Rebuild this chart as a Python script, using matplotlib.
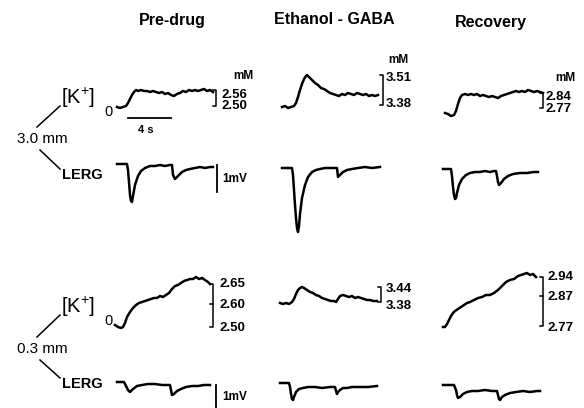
import numpy as np
import matplotlib
matplotlib.use("Agg")
import matplotlib.pyplot as plt

plt.rcParams['font.family'] = ['Liberation Sans', 'DejaVu Sans']
plt.rcParams['mathtext.fontset'] = 'custom'
plt.rcParams['mathtext.rm'] = 'Liberation Sans'

# traces (x = time position, y = level, screen units)
# --- 3.0 mm ---
k30_pre_x = [117,120,123,126,128,130,132,134,136,138,141,144,147,150,153,156,159,162,165,168,171,174,177,180,183,186,189,192,195,198,201,204,207,210,213]
k30_pre_y = [107,108,107,106,103,99,95,92,90,91,90,91,91,92,91,92,93,92,94,93,95,96,94,93,91,92,90,91,90,91,90,89,91,90,92]
e30_pre_x = [117,127,128,129,130,131,132,133,135,138,141,145,150,155,160,165,170,172,173,175,178,182,186,190,195,200,205,210,213]
e30_pre_y = [164,164,170,182,195,201,202,196,185,176,171,168,166,166,165,166,165,165,175,179,176,172,170,169,168,167,168,167,167]

k30_eth_x = [282,285,288,291,294,296,298,300,302,304,306,307,309,312,315,318,321,324,327,330,333,336,339,342,345,348,351,354,357,360,363,366,369,372,375,378]
k30_eth_y = [107,106,108,107,106,103,97,90,84,79,76,75,77,80,83,85,88,89,91,93,94,95,96,94,95,93,94,95,93,94,95,94,96,95,96,95]
e30_eth_x = [282,292,293,294,295,296,297,298,299,300,302,305,308,312,316,320,325,330,335,337,338,340,343,347,352,358,365,372,380]
e30_eth_y = [168,168,175,190,205,218,228,232,226,214,198,185,177,172,170,169,168,168,168,168,177,175,172,170,169,168,167,168,167]

k30_rec_x = [445,448,451,454,456,458,460,462,465,468,471,474,477,480,483,486,489,492,495,498,501,504,507,510,513,516,519,522,525,528,531,534,537,540,543]
k30_rec_y = [113,114,116,115,111,104,98,95,94,95,94,95,94,96,95,96,97,96,97,98,96,95,94,93,92,91,92,91,92,90,91,92,91,92,93]
e30_rec_x = [443,451,452,453,454,455,456,457,459,462,466,470,475,480,485,490,494,496,497,498,499,501,504,508,513,520,527,534,538]
e30_rec_y = [169,169,176,187,195,199,198,193,185,179,175,173,172,172,171,172,171,171,176,182,185,183,179,176,174,173,173,172,172]

# --- 0.3 mm ---
k03_pre_x = [115,118,121,123,125,127,130,133,136,139,142,145,148,151,154,157,160,163,166,169,172,175,178,181,184,187,190,193,196,199,202,205,208,210]
k03_pre_y = [325,327,328,327,323,317,312,308,305,303,302,301,300,299,298,298,296,297,295,293,289,286,285,283,281,280,279,279,277,279,278,280,282,284]
e03_pre_x = [117,124,126,128,130,133,137,142,148,155,162,168,170,171,172,174,177,181,186,192,198,204,210]
e03_pre_y = [382,382,386,390,392,389,386,385,384,384,385,385,385,390,395,394,391,389,387,386,386,385,385]

k03_eth_x = [280,283,286,289,292,294,296,298,300,302,304,307,310,313,316,319,322,325,328,331,334,336,338,340,343,346,349,352,355,358,361,364,367,370,373,377]
k03_eth_y = [303,304,303,304,302,299,294,290,288,287,288,290,292,293,295,296,298,299,300,301,301,302,299,296,295,296,297,296,298,297,298,299,300,300,301,301]
e03_eth_x = [280,289,290,291,292,293,294,296,299,303,308,315,322,330,335,336,337,338,340,343,347,352,360,368,377]
e03_eth_y = [383,383,387,394,399,400,397,392,389,388,387,387,388,387,387,391,394,392,390,388,388,387,387,387,386]

k03_rec_x = [443,445,447,449,451,453,455,458,461,464,467,470,474,478,482,486,490,494,498,502,506,510,514,518,521,524,527,530,533,536]
k03_rec_y = [327,327,324,320,316,313,311,309,307,305,303,302,300,298,297,295,295,293,290,286,282,280,279,276,275,274,273,275,274,277]
e03_rec_x = [443,454,456,457,458,460,463,467,472,478,485,492,497,498,499,500,502,505,510,516,523,530,537,540]
e03_rec_y = [385,385,390,395,398,397,394,392,391,391,390,391,391,395,399,400,397,395,393,392,391,392,391,391]

titles = ["Pre-drug", "Ethanol - GABA", "Recovery"]
k30_labels = [["2.56", "2.50"], ["3.51", "3.38"], ["2.84", "2.77"]]
k03_labels = [["2.65", "2.60", "2.50"], ["3.44", "3.38"], ["2.94", "2.87", "2.77"]]

fig = plt.figure(figsize=(5.84, 4.08), dpi=100)
ax = fig.add_axes([0, 0, 1, 1])
ax.set_xlim(0, 584)
ax.set_ylim(408, 0)
ax.axis('off')

lw = 1.8
for xs, ys in [(k30_pre_x, k30_pre_y), (e30_pre_x, e30_pre_y),
               (k30_eth_x, k30_eth_y), (e30_eth_x, e30_eth_y),
               (k30_rec_x, k30_rec_y), (e30_rec_x, e30_rec_y),
               (k03_pre_x, k03_pre_y), (e03_pre_x, e03_pre_y),
               (k03_eth_x, k03_eth_y), (e03_eth_x, e03_eth_y),
               (k03_rec_x, k03_rec_y), (e03_rec_x, e03_rec_y)]:
    ax.plot(xs, ys, color='black', lw=lw, solid_joinstyle='round')


def bracket(x, y0, y1, mids=()):
    ax.plot([x - 3, x, x, x - 3], [y0, y0, y1, y1], color='black', lw=1.1)
    for m in mids:
        ax.plot([x - 3, x], [m, m], color='black', lw=1.1)


def stack(x, ys, labels, size=9.5):
    for y, s in zip(ys, labels):
        ax.text(x, y, s, fontsize=size, fontweight='bold', va='center', ha='left')


# column titles
for cx, cy, t in zip([172, 334, 491], [20, 20, 23], titles):
    ax.text(cx, cy, t, fontsize=11.5, fontweight='bold', ha='center', va='center')

# mM labels
for cx, cy in [(243, 76), (398, 60), (565, 78)]:
    ax.text(cx, cy, "mM", fontsize=8.5, fontweight='bold', ha='center', va='center')

# 3.0 mm row scales
bracket(216, 90, 106)
stack(222, [95, 106], k30_labels[0])
bracket(383, 75, 105)
stack(386, [78, 104], k30_labels[1])
bracket(543, 93, 108)
stack(546, [97, 109], k30_labels[2])

# 0.3 mm row scales
bracket(213, 284, 327, mids=[304])
stack(220, [284, 305, 328], k03_labels[0])
bracket(381, 287, 302)
stack(386, [289, 306], k03_labels[1])
bracket(543, 277, 326, mids=[296])
stack(547, [277, 297, 328], k03_labels[2])

# time bar
ax.plot([128, 171], [118, 118], color='black', lw=1.3)
ax.text(146, 130, "4 s", fontsize=8, fontweight='bold', ha='center', va='center')

# 1 mV bars
ax.plot([217, 217], [165, 192], color='black', lw=1.3)
ax.text(222, 179, "1mV", fontsize=8.5, fontweight='bold', ha='left', va='center')
ax.plot([216, 216], [385, 408], color='black', lw=1.3)
ax.text(222, 397, "1mV", fontsize=8.5, fontweight='bold', ha='left', va='center')

# left labels
for ky, dy, ly, dist in [(98, 139, 175, "3.0 mm"), (307, 349, 384, "0.3 mm")]:
    ax.text(61, ky, r"$[\mathrm{K}^{+}]$", fontsize=14.5, ha='left', va='center')
    ax.text(104, ky + 14, "0", fontsize=10.5, ha='left', va='center')
    ax.text(42, dy, dist, fontsize=11, ha='center', va='center')
    ax.text(62, ly, "LERG", fontsize=10.5, fontweight='bold', ha='left', va='center')
    ax.plot([37, 60], [dy - 12, ky + 8], color='black', lw=1.1)
    ax.plot([40, 60], [dy + 11, ly - 6], color='black', lw=1.1)

fig.savefig("out.png", dpi=100)
